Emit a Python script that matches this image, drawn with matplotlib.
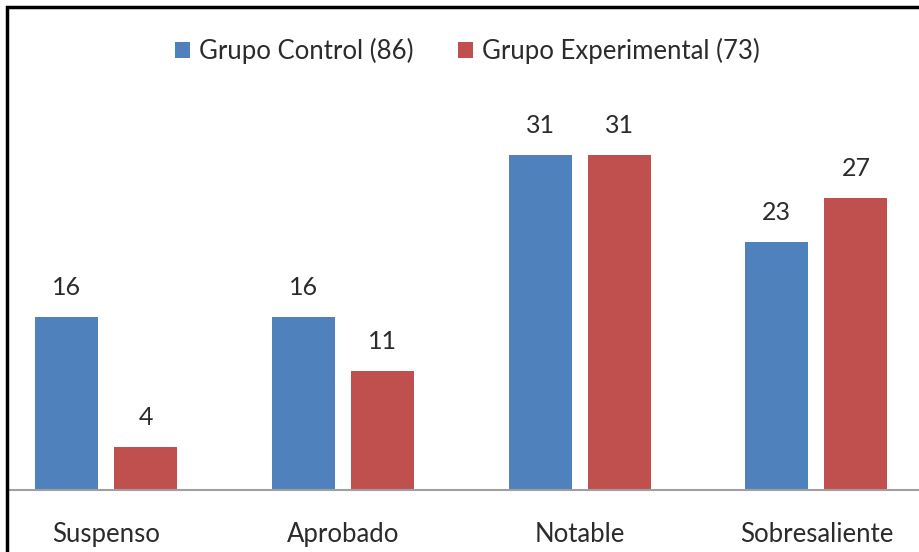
import numpy as np
import matplotlib.pyplot as plt
from matplotlib.patches import Rectangle

plt.rcParams['font.family'] = ['Lato', 'DejaVu Sans']

categorias = ['Suspenso', 'Aprobado', 'Notable', 'Sobresaliente']
control = [16, 16, 31, 23]
experimental = [4, 11, 31, 27]
etiquetas = ['Grupo Control (86)', 'Grupo Experimental (73)']

azul = '#4F81BD'
rojo = '#C0504D'
texto = '#2B2B2B'

fig = plt.figure(figsize=(9.2, 5.52), dpi=100)
ax = fig.add_axes([8 / 920, 62 / 552, 1 - 8 / 920, 378 / 552])

x = np.arange(len(categorias))
ancho = 0.266
b1 = ax.bar(x - 0.167, control, ancho, color=azul, label=etiquetas[0])
b2 = ax.bar(x + 0.167, experimental, ancho, color=rojo, label=etiquetas[1])

# valores encima de cada barra
for barras in (b1, b2):
    for b in barras:
        ax.annotate(f'{int(b.get_height())}',
                    (b.get_x() + b.get_width() / 2, b.get_height()),
                    xytext=(0, 13), textcoords='offset points',
                    ha='center', va='bottom', fontsize=18, color=texto)

ax.set_xlim(-0.414, 3.4375)
ax.set_ylim(0, 35)
ax.set_yticks([])
ax.set_xticks(x)
ax.set_xticklabels(categorias, fontsize=18.5, color=texto)
ax.tick_params(axis='x', length=0, pad=23)
for lado in ('top', 'right', 'left'):
    ax.spines[lado].set_visible(False)
ax.spines['bottom'].set_color('#A0A0A0')
ax.spines['bottom'].set_linewidth(1.5)

ax.legend(loc='upper center', bbox_to_anchor=(0.508, (552 - 15) / 552),
          bbox_transform=fig.transFigure, ncol=2, frameon=False,
          fontsize=18.5, handlelength=0.6, handleheight=0.6,
          handletextpad=0.35, columnspacing=1.7, labelcolor=texto)

# marco negro del gráfico
fig.patches.append(Rectangle((7 / 920, -0.1), 1.2, 1 - 7 / 552 + 0.1,
                             transform=fig.transFigure, fill=False,
                             edgecolor='black', linewidth=2.5))

fig.savefig('out.png', dpi=100)
